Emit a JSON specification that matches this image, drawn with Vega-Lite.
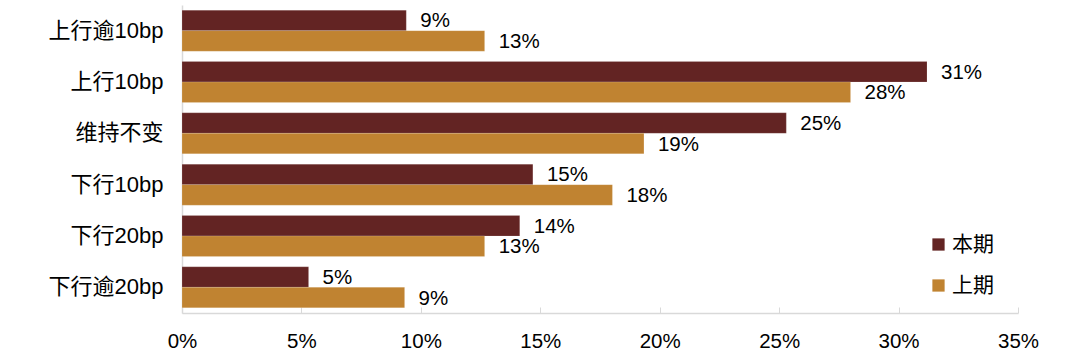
{
  "$schema": "https://vega.github.io/schema/vega-lite/v6.json",
  "width": 836,
  "height": 308,
  "autosize": {"type": "none"},
  "padding": {"left": 182, "top": 5, "right": 62, "bottom": 45},
  "background": "white",
  "config": {
    "font": "Liberation Sans, Noto Sans CJK SC",
    "view": {"stroke": null}
  },
  "data": {
    "values": [
      {"category": "上行逾10bp", "series": "本期", "value": 0.0939},
      {"category": "上行逾10bp", "series": "上期", "value": 0.1267},
      {"category": "上行10bp", "series": "本期", "value": 0.3119},
      {"category": "上行10bp", "series": "上期", "value": 0.2799},
      {"category": "维持不变", "series": "本期", "value": 0.2530},
      {"category": "维持不变", "series": "上期", "value": 0.1934},
      {"category": "下行10bp", "series": "本期", "value": 0.1469},
      {"category": "下行10bp", "series": "上期", "value": 0.1802},
      {"category": "下行20bp", "series": "本期", "value": 0.1414},
      {"category": "下行20bp", "series": "上期", "value": 0.1267},
      {"category": "下行逾20bp", "series": "本期", "value": 0.0530},
      {"category": "下行逾20bp", "series": "上期", "value": 0.0932}
    ]
  },
  "encoding": {
    "y": {
      "field": "category",
      "type": "nominal",
      "sort": ["上行逾10bp", "上行10bp", "维持不变", "下行10bp", "下行20bp", "下行逾20bp"],
      "scale": {"paddingInner": 0.2, "paddingOuter": 0.1},
      "axis": {
        "title": null,
        "ticks": false,
        "domainColor": "#d9d9d9",
        "domainWidth": 1.5,
        "labelFontSize": 22,
        "labelColor": "#000000",
        "labelPadding": 19
      }
    },
    "yOffset": {
      "field": "series",
      "type": "nominal",
      "sort": ["本期", "上期"]
    },
    "x": {
      "field": "value",
      "type": "quantitative",
      "scale": {"domain": [0, 0.35], "nice": false},
      "axis": {
        "title": null,
        "format": ".0%",
        "values": [0, 0.05, 0.1, 0.15, 0.2, 0.25, 0.3, 0.35],
        "grid": false,
        "labelFlush": false,
        "labelOverlap": false,
        "domainColor": "#d9d9d9",
        "domainWidth": 1.5,
        "tickColor": "#d9d9d9",
        "tickSize": -6,
        "labelFontSize": 20.5,
        "labelColor": "#000000",
        "labelPadding": 24
      }
    }
  },
  "layer": [
    {
      "mark": {"type": "bar", "stroke": "#ffffff", "strokeOpacity": 0.3, "strokeWidth": 0.5},
      "encoding": {
        "color": {
          "field": "series",
          "type": "nominal",
          "sort": ["本期", "上期"],
          "scale": {"domain": ["本期", "上期"], "range": ["#632423", "#C08331"]},
          "legend": {
            "title": null,
            "orient": "none",
            "legendX": 746,
            "legendY": 229,
            "symbolType": "square",
            "symbolSize": 150,
            "symbolStrokeWidth": 0,
            "labelFontSize": 21,
            "labelColor": "#000000",
            "rowPadding": 19,
            "labelOffset": 3
          }
        }
      }
    },
    {
      "mark": {"type": "text", "align": "left", "baseline": "middle", "dx": 14, "dy": 1, "fontSize": 20.5, "color": "#000000"},
      "encoding": {
        "text": {"field": "value", "type": "quantitative", "format": ".0%"}
      }
    }
  ]
}
